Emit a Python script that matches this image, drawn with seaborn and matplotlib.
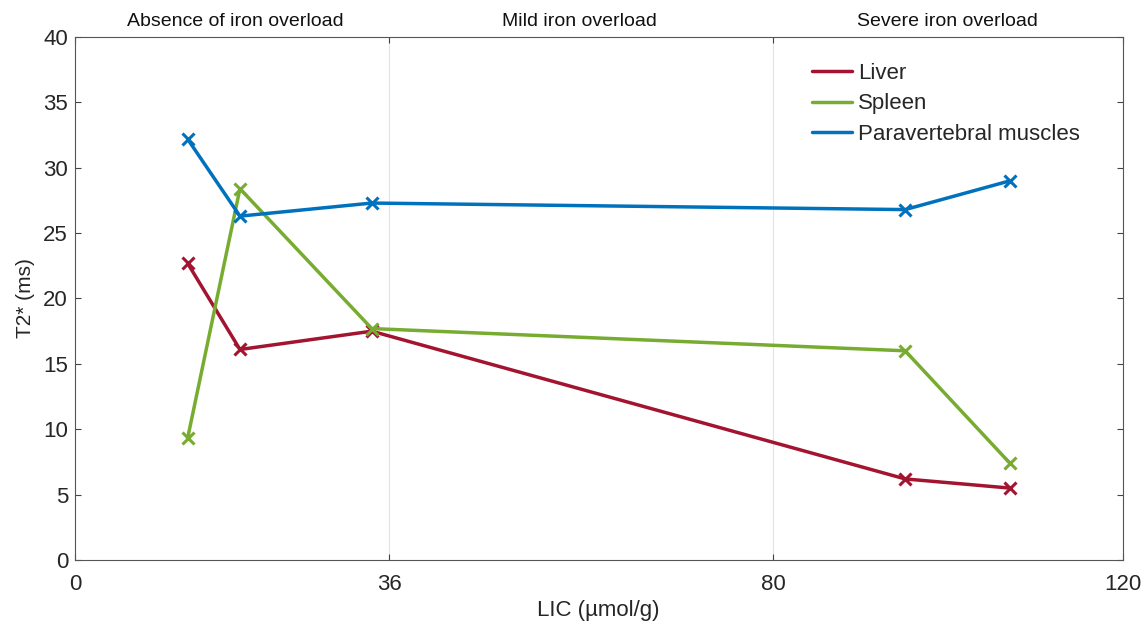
import matplotlib
matplotlib.use("Agg")
import matplotlib.pyplot as plt
import seaborn as sns
import pandas as pd

lic = [12.9, 18.9, 34.0, 95.1, 107.1]
liver = [22.7, 16.1, 17.5, 6.2, 5.5]
spleen = [9.3, 28.4, 17.7, 16.0, 7.4]
muscles = [32.2, 26.3, 27.3, 26.8, 29.0]
series_names = ["Liver", "Spleen", "Paravertebral muscles"]
colors = ["#A2142F", "#77AC30", "#0072BD"]
x_ticks = [0, 36, 80, 120]
y_ticks = [0, 5, 10, 15, 20, 25, 30, 35, 40]
region_labels = ["Absence of iron overload", "Mild iron overload", "Severe iron overload"]
region_centers = [18.4, 57.8, 100.0]

sns.set_theme(style="white")
plt.rcParams["font.family"] = ["Liberation Sans", "DejaVu Sans"]

fig = plt.figure(figsize=(11.48, 6.22), dpi=100)
ax = fig.add_axes([0.0653, 0.0997, 0.9125, 0.8408])

for xv in [36, 80]:
    ax.axvline(xv, color="#e3e3e3", lw=0.8, zorder=0)

for name, vals, c in zip(series_names, [liver, spleen, muscles], colors):
    df = pd.DataFrame({"LIC": lic, "T2": vals})
    sns.lineplot(data=df, x="LIC", y="T2", ax=ax, color=c, lw=2.5,
                 marker="x", markersize=9, markeredgewidth=2.2,
                 markeredgecolor=c, label=name, zorder=3)

ax.set_xlim(0, 120)
ax.set_ylim(0, 40)
ax.set_xticks(x_ticks)
ax.set_yticks(y_ticks)
ax.tick_params(direction="in", length=4, width=0.8, colors="#444444",
               labelcolor="#262626", labelsize=16, top=True, right=True,
               bottom=True, left=True)
ax.tick_params(axis="x", pad=10)
ax.tick_params(axis="y", pad=5)
for s in ax.spines.values():
    s.set_visible(True)
    s.set_color("#555555")
    s.set_linewidth(0.8)

ax.set_xlabel("LIC (µmol/g)", fontsize=16, color="#262626", labelpad=3.5)
ax.set_ylabel("T2* (ms)", fontsize=15, color="#262626", labelpad=6)

for lab, xc in zip(region_labels, region_centers):
    ax.text(xc, 40.5, lab, ha="center", va="bottom", fontsize=14, color="#111111")

leg = ax.legend(loc="upper right", bbox_to_anchor=(0.974, 0.98), frameon=False,
                fontsize=16, handlelength=1.8, handletextpad=0.25, labelspacing=0.42,
                borderaxespad=0.3)
for h in leg.get_lines():
    h.set_marker("")
    h.set_linewidth(2.5)

fig.savefig("out.png", dpi=100)
